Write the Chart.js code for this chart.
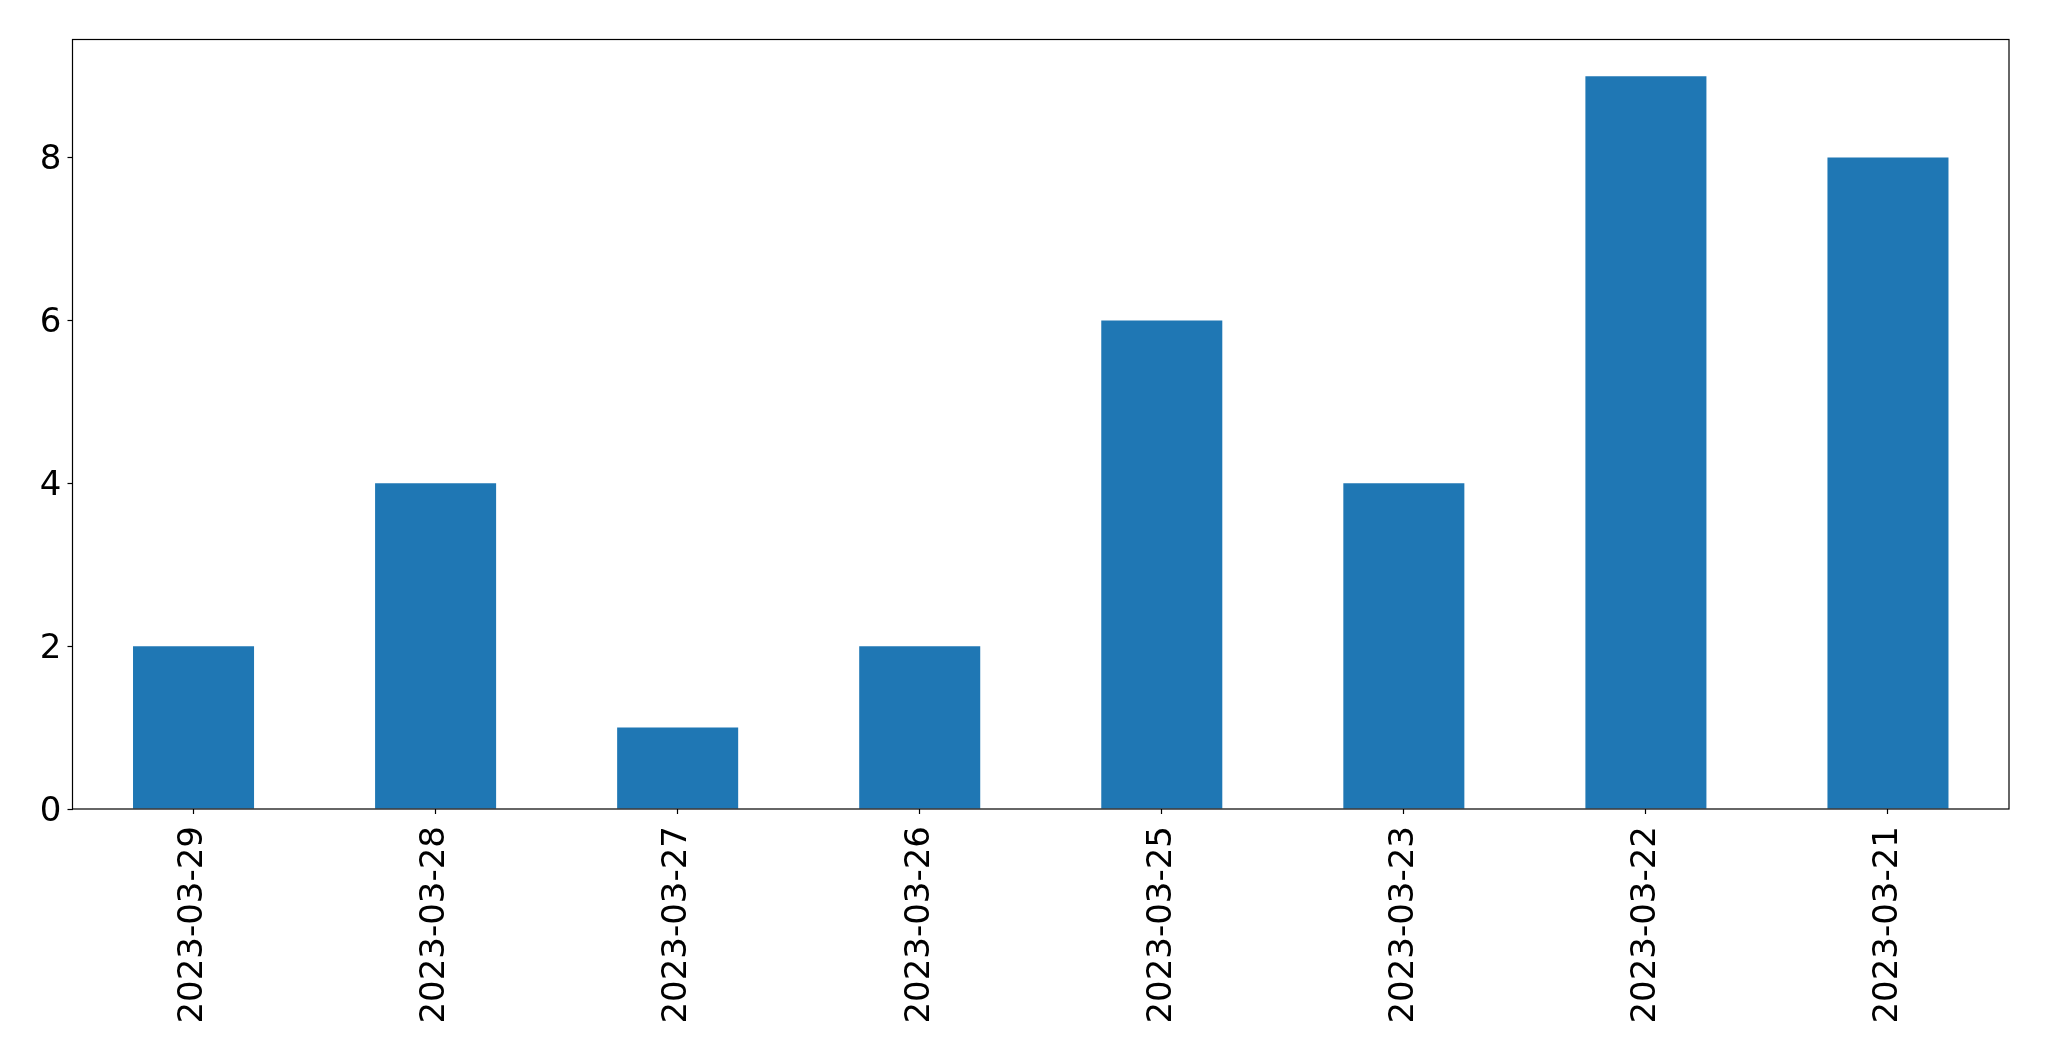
<!DOCTYPE html>
<html>
<head>
<meta charset="utf-8">
<script src="https://cdn.jsdelivr.net/npm/chart.js@4"></script>
<style>
  html, body { margin: 0; padding: 0; background: #fff; }
  #wrap { width: 2049px; height: 1061px; }
</style>
</head>
<body>
<div id="wrap"><canvas id="chart" width="2049" height="1061"></canvas></div>
<script>
// データ
const dates = ['2023-03-29', '2023-03-28', '2023-03-27', '2023-03-26', '2023-03-25', '2023-03-23', '2023-03-22', '2023-03-21'];
const counts = [2, 4, 1, 2, 6, 4, 9, 8];
const yTicks = [0, 2, 4, 6, 8];

const barColor = '#1f77b4';
const fontFamily = '"DejaVu Sans", sans-serif';

// 枠線を描くプラグイン
const frame = {
    id: 'frame',
    afterDraw(chart) {
        const { ctx, chartArea: a } = chart;
        ctx.save();
        ctx.strokeStyle = '#000';
        ctx.lineWidth = 1.2;
        ctx.strokeRect(a.left, a.top, a.right - a.left, a.bottom - a.top);
        ctx.restore();
    }
};

const ctx = document.getElementById('chart').getContext('2d');
new Chart(ctx, {
    type: 'bar',
    data: {
        labels: dates,
        datasets: [{
            data: counts,
            backgroundColor: barColor,
            borderWidth: 0,
            categoryPercentage: 1,
            barPercentage: 0.5
        }]
    },
    options: {
        responsive: false,
        animation: false,
        layout: { padding: { top: 39.5, right: 40, left: 0, bottom: 0 } },
        plugins: { legend: { display: false }, tooltip: { enabled: false } },
        scales: {
            x: {
                offset: true,
                grid: { display: true, drawOnChartArea: false, offset: false, tickLength: 5, tickColor: '#000', tickWidth: 1.2 },
                border: { display: false },
                ticks: {
                    color: '#000',
                    font: { family: fontFamily, size: 34 },
                    minRotation: 90, maxRotation: 90,
                    padding: 12,
                    autoSkip: false
                },
                afterFit(scale) { scale.height = 252; }
            },
            y: {
                min: 0,
                max: 9.45,
                grid: { display: true, drawOnChartArea: false, tickLength: 5, tickColor: '#000', tickWidth: 1.2 },
                border: { display: false },
                ticks: {
                    color: '#000',
                    font: { family: fontFamily, size: 34 },
                    stepSize: 2,
                    includeBounds: false,
                    padding: 6,
                    callback: v => yTicks.includes(v) ? v : ''
                },
                afterFit(scale) { scale.width = 72.5; },
                // 目盛りラベルを少し下にずらす
                afterUpdate(scale) {
                    const orig = Object.getPrototypeOf(scale)._computeLabelItems;
                    if (!orig) return;
                    scale._computeLabelItems = function (area) {
                        const items = orig.call(this, area);
                        items.forEach(it => {
                            if (it.options && it.options.translation) it.options.translation[1] += 3;
                        });
                        return items;
                    };
                }
            }
        }
    },
    plugins: [frame]
});
</script>
</body>
</html>
